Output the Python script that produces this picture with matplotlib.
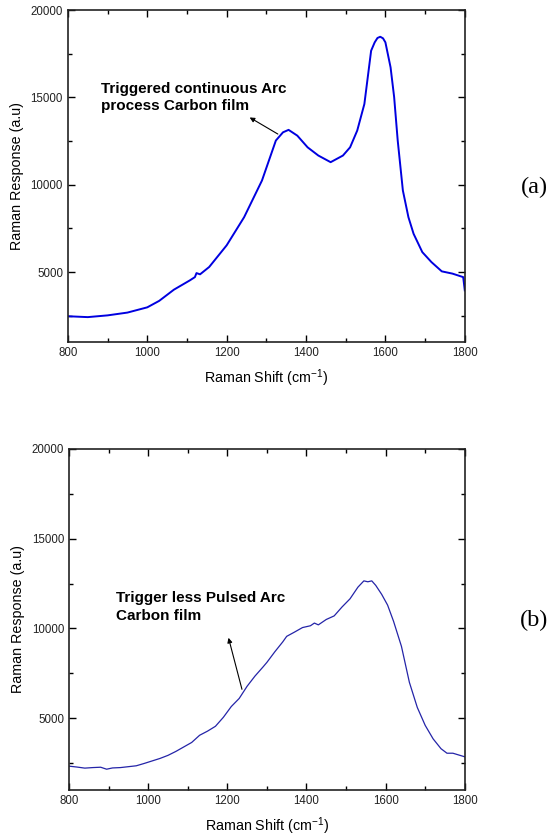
"""
Raman spectra of the two arc-deposited carbon films, panels (a) and (b)
"""
import matplotlib
matplotlib.use("Agg")
import matplotlib.pyplot as plt
from matplotlib.ticker import MultipleLocator

plt.rcParams['font.family'] = ['Liberation Sans', 'DejaVu Sans']
plt.rcParams['mathtext.default'] = 'regular'

# (a) triggered continuous arc film
shift_a = [800, 850, 900, 950, 1000, 1030, 1067, 1107, 1120, 1124, 1133, 1156,
           1200, 1244, 1289, 1324, 1342, 1356, 1378, 1404, 1431, 1462, 1493,
           1511, 1529, 1547, 1564, 1573, 1580, 1587, 1594, 1600, 1613, 1622,
           1631, 1644, 1658, 1671, 1693, 1716, 1742, 1769, 1796, 1800]
resp_a = [2470, 2420, 2520, 2680, 2980, 3350, 3990, 4520, 4710, 4940, 4870, 5290,
          6530, 8140, 10240, 12530, 13000, 13140, 12810, 12140, 11670, 11290, 11670,
          12140, 13100, 14620, 17670, 18150, 18400, 18470, 18380, 18150, 16720, 15020,
          12530, 9670, 8140, 7190, 6140, 5570, 5040, 4910, 4710, 3950]

# (b) trigger-less pulsed arc film
shift_b = [800, 820, 840, 860, 880, 895, 910, 930, 950, 970, 990, 1010, 1030,
           1050, 1070, 1090, 1110, 1130, 1150, 1170, 1190, 1210, 1230, 1250,
           1270, 1290, 1300, 1320, 1340, 1350, 1370, 1390, 1410, 1420, 1430,
           1450, 1470, 1490, 1510, 1530, 1545, 1555, 1565, 1575, 1590, 1605,
           1620, 1640, 1660, 1680, 1700, 1720, 1740, 1755, 1770, 1785, 1800]
resp_b = [2330, 2280, 2220, 2250, 2270, 2160, 2230, 2250, 2300, 2350, 2480, 2620, 2760,
          2930, 3150, 3400, 3650, 4050, 4280, 4550, 5050, 5650, 6100, 6780,
          7350, 7850, 8110, 8700, 9250, 9560, 9800, 10050, 10150, 10300, 10200,
          10500, 10700, 11200, 11650, 12300, 12650, 12600, 12650, 12400, 11900, 11300,
          10400, 9000, 7000, 5600, 4600, 3850, 3300, 3050, 3050, 2950, 2850]


def style_axis(ax):
    ax.set_xlim(800, 1800)
    ax.set_ylim(1000, 20000)
    ax.set_yticks([5000, 10000, 15000, 20000])
    ax.xaxis.set_major_locator(MultipleLocator(200))
    ax.xaxis.set_minor_locator(MultipleLocator(100))
    ax.yaxis.set_minor_locator(MultipleLocator(2500))
    ax.tick_params(which='both', direction='in', top=True, right=True,
                   labelsize=8.3, labelcolor='#222222')
    ax.tick_params(which='major', length=5, width=1)
    ax.tick_params(which='minor', length=3, width=1)
    for sp in ax.spines.values():
        sp.set_linewidth(1.2)
        sp.set_color('#222222')
    ax.set_xlabel('Raman Shift (cm$^{-1}$)', fontsize=10.3, labelpad=6)
    ax.set_ylabel('Raman Response (a.u)', fontsize=10.3, labelpad=5)


fig = plt.figure(figsize=(5.52, 8.36), dpi=100)
ax1 = fig.add_axes([0.123, 0.591, 0.719, 0.397])
ax2 = fig.add_axes([0.125, 0.055, 0.717, 0.408])

ax1.plot(shift_a, resp_a, color='#0000e0', lw=1.4)
style_axis(ax1)
ax1.text(883, 15000, 'Triggered continuous Arc\nprocess Carbon film',
         fontsize=11, fontweight='bold', ha='left', va='center', linespacing=1.3)
ax1.annotate('', xy=(1258, 13850), xytext=(1329, 12900),
             arrowprops=dict(arrowstyle='-|>', color='black', lw=0.8,
                             mutation_scale=7, shrinkA=0, shrinkB=0))

ax2.plot(shift_b, resp_b, color='#2424a8', lw=0.9)
style_axis(ax2)
ax2.text(920, 11200, 'Trigger less Pulsed Arc\nCarbon film',
         fontsize=11, fontweight='bold', ha='left', va='center', linespacing=1.3)
ax2.annotate('', xy=(1203, 9480), xytext=(1237, 6610),
             arrowprops=dict(arrowstyle='-|>', color='black', lw=0.8,
                             mutation_scale=7, shrinkA=0, shrinkB=0))

fig.text(0.968, 0.776, '(a)', fontsize=17.5, family='Liberation Serif', ha='center', va='center')
fig.text(0.968, 0.258, '(b)', fontsize=17.5, family='Liberation Serif', ha='center', va='center')

fig.savefig('out.png', dpi=100)
